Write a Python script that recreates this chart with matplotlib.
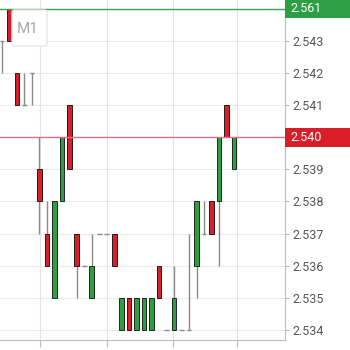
import matplotlib
matplotlib.use("Agg")
import matplotlib.pyplot as plt
import matplotlib.transforms as mtransforms
from matplotlib.patches import Rectangle, FancyBboxPatch
import numpy as np

plt.rcParams['font.family'] = ['Roboto', 'DejaVu Sans']

opens  = [2.543, 2.544, 2.542, 2.541, 2.542, 2.539, 2.537, 2.535, 2.538, 2.541,
          2.537, 2.536, 2.535, 2.537, 2.537, 2.537, 2.534, 2.535, 2.534, 2.534,
          2.534, 2.536, 2.534, 2.534, 2.534, 2.534, 2.536, 2.537, 2.538, 2.538,
          2.541, 2.539]
highs  = [2.543, 2.544, 2.542, 2.542, 2.542, 2.540, 2.538, 2.538, 2.540, 2.541,
          2.537, 2.536, 2.537, 2.537, 2.537, 2.537, 2.535, 2.535, 2.535, 2.535,
          2.535, 2.536, 2.534, 2.536, 2.534, 2.537, 2.538, 2.538, 2.538, 2.540,
          2.541, 2.540]
lows   = [2.542, 2.543, 2.541, 2.541, 2.541, 2.537, 2.536, 2.535, 2.538, 2.539,
          2.535, 2.536, 2.535, 2.537, 2.537, 2.536, 2.534, 2.534, 2.534, 2.534,
          2.534, 2.535, 2.534, 2.534, 2.534, 2.534, 2.535, 2.537, 2.537, 2.536,
          2.540, 2.539]
closes = [2.543, 2.543, 2.541, 2.541, 2.542, 2.538, 2.536, 2.538, 2.540, 2.539,
          2.536, 2.536, 2.536, 2.537, 2.537, 2.536, 2.535, 2.534, 2.535, 2.535,
          2.535, 2.535, 2.534, 2.535, 2.534, 2.534, 2.538, 2.537, 2.537, 2.540,
          2.540, 2.540]

y_ticks = [2.534, 2.535, 2.536, 2.537, 2.538, 2.539, 2.540, 2.541, 2.542, 2.543]
x_grid = [5.08, 14.04, 22.86, 31.4]
bid_price = 2.540
bid_label = "2.540"
top_price = 2.5440
top_label = "2.561"
timeframe = "M1"

RED = '#d71f2b'
GREEN = '#2f9e41'
WICK = '#8a8a8a'

fig = plt.figure(figsize=(3.5, 3.5), dpi=100)
ax = fig.add_axes([0, 10/350, 285/350, 340/350])

x = np.arange(len(opens))
o = np.array(opens); c = np.array(closes); h = np.array(highs); l = np.array(lows)

ax.set_xlim(-0.267, 37.83)
ax.set_ylim(2.53369, 2.54427)

# grid
for yv in y_ticks:
    ax.axhline(yv, color='#ebebeb', lw=0.8, zorder=0)
for xv in x_grid:
    ax.axvline(xv, color='#e4e4e4', lw=0.8, zorder=0)

# wicks
ax.vlines(x, l, h, color=WICK, lw=1.0, zorder=2)

body_w = 0.62
is_doji = np.isclose(o, c)
up = (c > o) & ~is_doji
dn = (c < o) & ~is_doji
ax.bar(x[up], (c - o)[up], bottom=o[up], width=body_w, color=GREEN,
       edgecolor='#1d2a1d', linewidth=0.7, zorder=3)
ax.bar(x[dn], (o - c)[dn], bottom=c[dn], width=body_w, color=RED,
       edgecolor='#2a1a1a', linewidth=0.7, zorder=3)
ax.hlines(o[is_doji], x[is_doji] - body_w/2, x[is_doji] + body_w/2,
          color=WICK, lw=1.0, zorder=3)

# price lines
ax.axhline(top_price, color='#3aa34a', lw=1.0, zorder=4)
ax.axhline(bid_price, color='#e07080', lw=1.0, zorder=4)

# spines and axes
for s in ['top', 'left']:
    ax.spines[s].set_visible(False)
ax.spines['right'].set_color('#bdbdbd')
ax.spines['bottom'].set_color('#bdbdbd')
ax.yaxis.tick_right()
ax.set_yticks(y_ticks)
# the bid price label box replaces the plain tick label at that level
ax.set_yticklabels(["" if np.isclose(v, bid_price) else f"{v:.3f}" for v in y_ticks])
ax.tick_params(axis='y', colors='#bdbdbd', labelcolor='#555555', labelsize=9,
               length=3, width=0.8, pad=2)
ax.set_xticks(x_grid)
ax.set_xticklabels([])
ax.tick_params(axis='x', colors='#bdbdbd', length=5, width=0.8)

# label boxes on right
trans = mtransforms.blended_transform_factory(ax.transAxes, ax.transData)
box_w = 65/285
px = (2.54427 - 2.53369) / 340.0
ax.add_patch(Rectangle((1.0, top_price - 9*px), box_w, 18*px, transform=trans,
                       facecolor='#2e9e44', edgecolor='none', clip_on=False, zorder=5))
ax.text(1.0 + 5/285, top_price, top_label, transform=trans, color='white',
        fontsize=9, va='center', ha='left', zorder=6, clip_on=False)
ax.add_patch(Rectangle((1.0, bid_price - 9.5*px), box_w, 19*px, transform=trans,
                       facecolor='#d91e2a', edgecolor='none', clip_on=False, zorder=5))
ax.text(1.0 + 5/285, bid_price, bid_label, transform=trans, color='white',
        fontsize=9, va='center', ha='left', zorder=6, clip_on=False)

# timeframe box
fig.patches.append(FancyBboxPatch((12/350, 1 - 46/350), 35/350, 36/350,
                                  boxstyle='round,pad=0,rounding_size=0.006',
                                  transform=fig.transFigure, facecolor='white',
                                  edgecolor='#e6e6e6', linewidth=1.0, zorder=10))
fig.text(28/350, 1 - 29/350, timeframe, color='#a8a8a8', fontsize=11,
         ha='center', va='center', zorder=11)

fig.savefig('out.png', dpi=100)
